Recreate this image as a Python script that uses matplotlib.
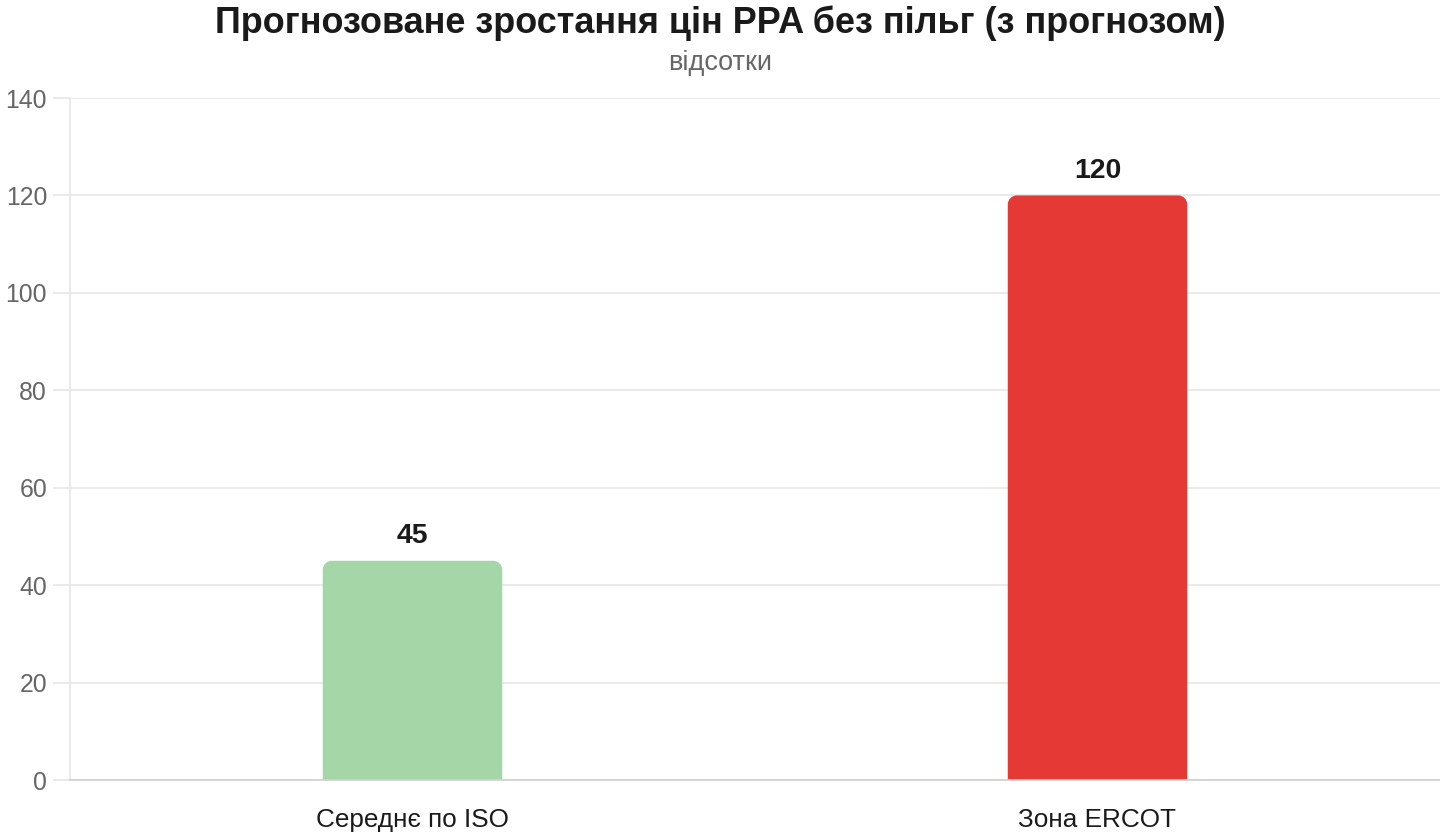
import matplotlib
matplotlib.use("Agg")
import matplotlib.pyplot as plt
from matplotlib.path import Path
from matplotlib.patches import PathPatch

plt.rcParams['font.family'] = ['Liberation Sans', 'DejaVu Sans']

categories = ["Середнє по ISO", "Зона ERCOT"]
values = [45, 120]
colors = ["#a5d6a7", "#e53935"]
y_ticks = [0, 20, 40, 60, 80, 100, 120, 140]

title = "Прогнозоване зростання цін PPA без пільг (з прогнозом)"
subtitle = "відсотки"

fig = plt.figure(figsize=(14.4, 8.4), dpi=100)
ax = fig.add_axes([70 / 1440, 60 / 840, 1370 / 1440, 682 / 840])

x = list(range(len(categories)))
bar_w = 0.262
bars = ax.bar(x, values, width=bar_w, color=colors)

ax.set_xlim(-0.5, len(categories) - 0.5)
ax.set_ylim(0, 140)
ax.set_yticks(y_ticks)
ax.set_xticks(x)
ax.set_xticklabels(categories, fontsize=18.8, color="#1a1a1a")
ax.tick_params(axis="y", labelsize=17.8, labelcolor="#666666", length=12, pad=4.5,
               color="#e6e6e6", width=1.2)
ax.tick_params(axis="x", length=0, pad=20)
ax.grid(axis="y", color="#e6e6e6", linewidth=1.2)
ax.set_axisbelow(True)
for s in ["top", "right"]:
    ax.spines[s].set_visible(False)
ax.spines["left"].set_color("#e6e6e6")
ax.spines["left"].set_linewidth(1.2)
ax.spines["bottom"].set_color("#d0d0d0")
ax.spines["bottom"].set_linewidth(1.2)

# rounded top corners (radius in pixels)
fig.canvas.draw()
r_px = 9
inv = ax.transData.inverted()
p0 = inv.transform((0, 0))
p1 = inv.transform((r_px, r_px))
rx, ry = p1[0] - p0[0], p1[1] - p0[1]
for b, c in zip(bars, colors):
    x0, w, h = b.get_x(), b.get_width(), b.get_height()
    x1 = x0 + w
    k = 0.55
    verts = [(x0, 0), (x0, h - ry), (x0, h - ry + k * ry), (x0 + rx - k * rx, h), (x0 + rx, h),
             (x1 - rx, h), (x1 - rx + k * rx, h), (x1, h - ry + k * ry), (x1, h - ry), (x1, 0), (x0, 0)]
    codes = [Path.MOVETO, Path.LINETO, Path.CURVE4, Path.CURVE4, Path.CURVE4,
             Path.LINETO, Path.CURVE4, Path.CURVE4, Path.CURVE4, Path.LINETO, Path.CLOSEPOLY]
    b.set_visible(False)
    ax.add_patch(PathPatch(Path(verts, codes), facecolor=c, edgecolor="none", zorder=2))
    ax.annotate(f"{h:g}", (x0 + w / 2, h), xytext=(0, 8.5), textcoords="offset points",
                ha="center", va="bottom", fontsize=20.4, fontweight="bold", color="#1a1a1a")

fig.text(0.5, 1 - 23 / 840, title, ha="center", va="center", fontsize=25.9, fontweight="bold", color="#1a1a1a")
fig.text(0.5, 1 - 63 / 840, subtitle, ha="center", va="center", fontsize=19.5, color="#666666")

fig.savefig("out.png", dpi=100)
